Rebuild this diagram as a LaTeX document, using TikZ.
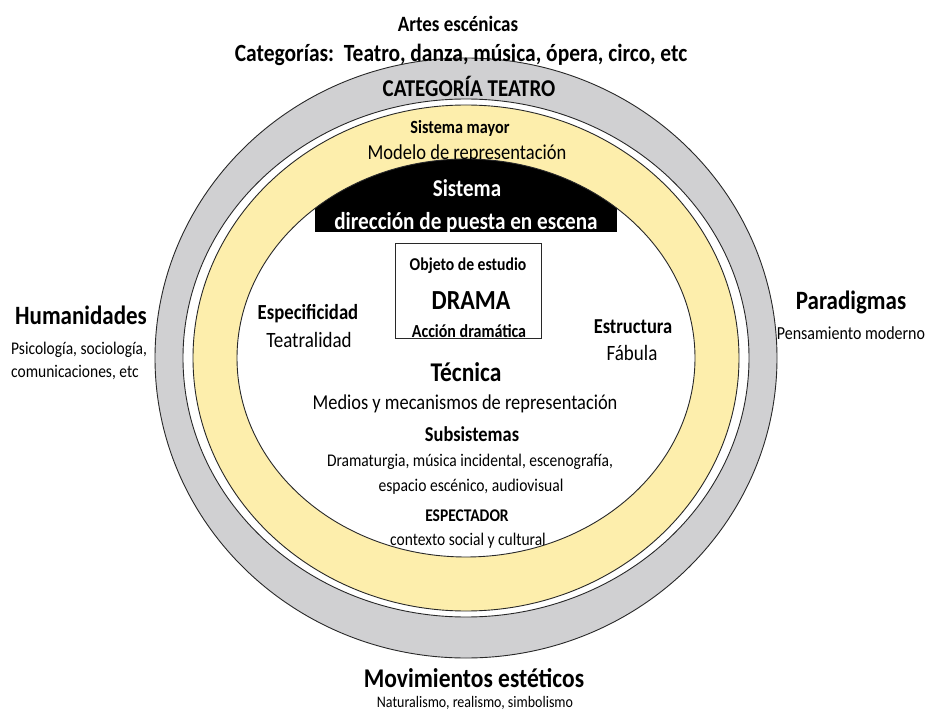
\documentclass[tikz,border=0pt]{standalone}
\usepackage{graphicx}
\usepackage{fontspec}
\setmainfont{Carlito}
\definecolor{ringgray}{RGB}{208,208,210}
\definecolor{ringyellow}{RGB}{253,238,172}
\definecolor{rimcol}{RGB}{40,40,40}
\newcommand{\fsz}[1]{\fontsize{#1}{#1}\selectfont}
% the lettering is set slightly tall
\newcommand{\tall}[1]{\scalebox{1}[1.15]{#1}}
\begin{document}
\begin{tikzpicture}[x=1pt,y=-1pt,
  rim/.style={draw=rimcol, line width=0.9pt},
  txt/.style={inner sep=0pt, align=center, text=black},
  bighead/.style={txt, font=\fsz{23}\bfseries},
  smallbody/.style={txt, font=\fsz{15.5}},
  capline/.style={txt, text=white, font=\fsz{21}\bfseries}
]
\useasboundingbox (0,0) rectangle (927,711);
\fill[white] (0,0) rectangle (927,711);
\coordinate (c) at (466,358);

% concentric rings
\path[rim, fill=ringgray]   (c) ellipse [x radius=311pt, y radius=300pt];
\path[rim, fill=white]      (c) ellipse [x radius=283pt, y radius=259pt];
\path[rim, fill=ringyellow] (c) ellipse [x radius=273pt, y radius=253pt];
\path[fill=white]           (c) ellipse [x radius=229pt, y radius=199pt];
% black cap at the top of the inner field
\begin{scope}
  \clip (c) ellipse [x radius=229pt, y radius=199pt];
  \fill[black] (315,150) rectangle (617,232);
\end{scope}
\draw[rim] (c) ellipse [x radius=229pt, y radius=199pt];

% central box
\node[draw=rimcol, line width=1pt, minimum width=146pt, minimum height=95pt, inner sep=0pt] (box) at (468,291.5) {};
\node[txt, font=\fsz{15.7}\bfseries] (objeto) at (468,266) {\tall{Objeto de estudio}};
\node[txt, font=\fsz{24}\bfseries] (drama) at (471,301) {\tall{DRAMA}};
\node[txt, font=\fsz{16}\bfseries] (accion) at (469,331) {\tall{Acción dramática}};

% outer labels
\node[txt, font=\fsz{19}\bfseries] (artes) at (458,24) {\tall{Artes escénicas}};
\node[txt, font=\fsz{21.5}\bfseries] (categorias) at (461,55) {\tall{Categorías:\ \ Teatro, danza, música, ópera, circo, etc}};
\node[txt, font=\fsz{21}\bfseries] (teatro) at (469,86) {\tall{CATEGORÍA TEATRO}};

\node[bighead] (human) at (81,315) {\tall{Humanidades}};
\node[smallbody, anchor=west] (humantxt1) at (11,350) {\tall{Psicología, sociología,}};
\node[smallbody, anchor=west] (humantxt2) at (11,373) {\tall{comunicaciones, etc}};

\node[bighead] (parad) at (851,302) {\tall{Paradigmas}};
\node[txt, font=\fsz{16}] (paradtxt) at (851,333) {\tall{Pensamiento moderno}};

\node[bighead, font=\fsz{23.5}\bfseries] (movim) at (474,678) {\tall{Movimientos estéticos}};
\node[txt, font=\fsz{14}] (movimtxt) at (475,703) {\tall{Naturalismo, realismo, simbolismo}};

% yellow band
\node[txt, font=\fsz{16.2}\bfseries] (mayor) at (460,128) {\tall{Sistema mayor}};
\node[txt, font=\fsz{18.5}] (modelo) at (467,154) {\tall{Modelo de representación}};

% black cap
\node[capline] (sistema) at (467,188) {\tall{Sistema}};
\node[capline, font=\fsz{21.2}\bfseries] (direccion) at (466,223) {\tall{dirección de puesta en escena}};

% inner field
\node[txt, font=\fsz{18.7}\bfseries] (especif) at (308,314) {\tall{Especificidad}};
\node[txt, font=\fsz{19}] (teatral) at (309,340) {\tall{Teatralidad}};
\node[txt, font=\fsz{18.5}\bfseries] (estruct) at (633,327) {\tall{Estructura}};
\node[txt, font=\fsz{19}] (fabula) at (632,353) {\tall{Fábula}};

\node[txt, font=\fsz{23.5}\bfseries] (tecnica) at (466,372) {\tall{Técnica}};
\node[txt, font=\fsz{18.4}] (medios) at (465,404) {\tall{Medios y mecanismos de representación}};
\node[txt, font=\fsz{18.4}\bfseries] (subsis) at (472,434) {\tall{Subsistemas}};
\node[txt, font=\fsz{15.5}] (dramat) at (470,462) {\tall{Dramaturgia, música incidental, escenografía,}};
\node[txt, font=\fsz{15.6}] (espacio) at (471,487) {\tall{espacio escénico, audiovisual}};
\node[txt, font=\fsz{15.5}\bfseries] (espect) at (467,516) {\tall{ESPECTADOR}};
\node[smallbody] (contexto) at (468,541) {\tall{contexto social y cultural}};
\end{tikzpicture}
\end{document}
